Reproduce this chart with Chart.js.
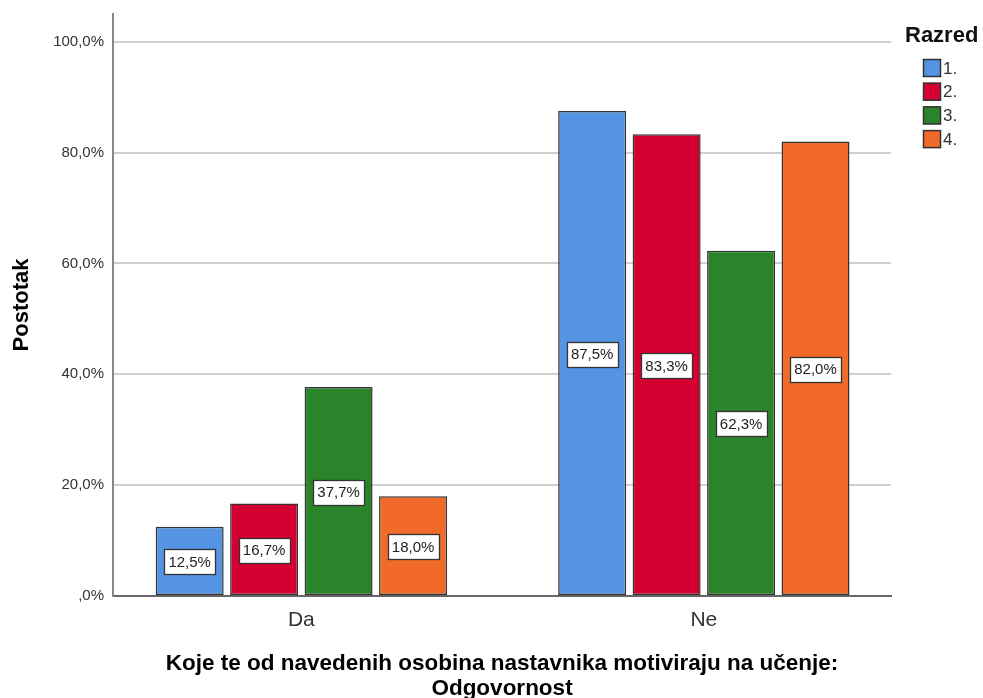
<!DOCTYPE html>
<html><head><meta charset="utf-8">
<style>html,body{margin:0;padding:0;background:#fff}#wrap{width:983px;height:698px;position:relative}</style>
<script src="https://cdn.jsdelivr.net/npm/chart.js@4.4.1/dist/chart.umd.min.js"></script>
</head><body><div id="wrap"><canvas id="c" width="983" height="698"></canvas></div>
<script>
const categories = ['Da', 'Ne'];
const seriesNames = ['1.', '2.', '3.', '4.'];
const razred1 = [12.5, 87.5];
const razred2 = [16.7, 83.3];
const razred3 = [37.7, 62.3];
const razred4 = [18.0, 82.0];
const yTicks = [0, 20, 40, 60, 80, 100];
const xTitle = ['Koje te od navedenih osobina nastavnika motiviraju na učenje:', 'Odgovornost'];
const yTitle = 'Postotak';
const legendTitle = 'Razred';
const colors = ['#5594E3', '#D50032', '#2A852A', '#F26A2A'];

const FONT = "'Liberation Sans', Arial, sans-serif";
const fmt = v => (v === 0 ? ',0%' : v.toFixed(1).replace('.', ',') + '%');

const series = [razred1, razred2, razred3, razred4];
const datasets = series.map((vals, i) => ({
  label: seriesNames[i],
  data: vals.map((v, j) => ({x: j, y: v})),
  backgroundColor: colors[i],
  borderColor: '#333333',
  borderWidth: 1.5,
  borderSkipped: false,
  categoryPercentage: 0.74,
  barPercentage: 0.913
}));

const labelPlugin = {
  id: 'valueLabels',
  afterDatasetsDraw(chart) {
    const ctx = chart.ctx;
    ctx.save();
    ctx.font = '15px ' + FONT;
    ctx.textAlign = 'center';
    ctx.textBaseline = 'middle';
    chart.data.datasets.forEach((ds, di) => {
      const meta = chart.getDatasetMeta(di);
      meta.data.forEach((el, j) => {
        const v = series[di][j];
        const txt = fmt(v);
        const cx = el.x;
        const cy = (el.y + el.base) / 2 + 1;
        const tw = ctx.measureText(txt).width;
        const w = Math.round(tw + 8), h = 25;
        const x0 = Math.round(cx - w / 2) + 0.5, y0 = Math.round(cy - h / 2) + 0.5;
        ctx.fillStyle = '#ffffff';
        ctx.fillRect(x0, y0, w, h);
        ctx.strokeStyle = '#333333';
        ctx.lineWidth = 1.3;
        ctx.strokeRect(x0, y0, w, h);
        ctx.fillStyle = '#222222';
        ctx.fillText(txt, cx, cy + 1);
      });
    });
    ctx.restore();
  }
};

const legendPlugin = {
  id: 'customLegend',
  afterDraw(chart) {
    const ctx = chart.ctx;
    ctx.save();
    ctx.fillStyle = '#111111';
    ctx.font = 'bold 22px ' + FONT;
    ctx.textAlign = 'left';
    ctx.textBaseline = 'middle';
    ctx.fillText(legendTitle, 905, 36);
    ctx.font = '17px ' + FONT;
    chart.data.datasets.forEach((ds, i) => {
      const y = 59 + i * 23.7;
      ctx.fillStyle = ds.backgroundColor;
      ctx.fillRect(923, y, 18, 18);
      ctx.strokeStyle = '#333333';
      ctx.lineWidth = 1.5;
      ctx.strokeRect(923.5, y + 0.5, 17, 17);
      ctx.fillStyle = '#333333';
      ctx.fillText(ds.label, 943, y + 10);
    });
    ctx.restore();
  }
};

new Chart(document.getElementById('c'), {
  type: 'bar',
  data: {datasets},
  plugins: [labelPlugin, legendPlugin],
  options: {
    responsive: false,
    devicePixelRatio: 1,
    animation: false,
    layout: {padding: {top: 14, right: 92, left: 0, bottom: 0}},
    plugins: {legend: {display: false}, tooltip: {enabled: false}},
    scales: {
      x: {
        type: 'linear',
        offset: false,
        min: -0.468,
        max: 1.465,
        afterBuildTicks: s => { s.ticks = categories.map((c, i) => ({value: i})); },
        afterFit: s => { s.height = 102; s.paddingLeft = 0; s.paddingRight = 0; },
        ticks: {
          callback: v => categories[v] !== undefined ? categories[v] : '',
          font: {family: FONT, size: 21},
          color: '#333333',
          padding: 12,
          autoSkip: false,
          maxRotation: 0
        },
        grid: {display: false, drawTicks: false, offset: false},
        border: {display: true, color: '#666666', width: 2},
        title: {
          display: true,
          text: xTitle,
          font: {family: FONT, size: 22.5, weight: 'bold', lineHeight: 1.11},
          color: '#000000',
          padding: {top: 0, bottom: -3}
        }
      },
      y: {
        min: 0,
        max: 105,
        afterBuildTicks: s => { s.ticks = yTicks.map(v => ({value: v})); },
        afterFit: s => { s.width = 113; s.paddingTop = 0; s.paddingBottom = 0; },
        ticks: {
          callback: v => fmt(v),
          font: {family: FONT, size: 15},
          color: '#333333',
          padding: 9
        },
        grid: {color: '#d0d0d0', lineWidth: 2, drawTicks: false},
        border: {display: true, color: '#888888', width: 2},
        title: {
          display: true,
          text: yTitle,
          font: {family: FONT, size: 22, weight: 'bold', lineHeight: 1.2},
          color: '#000000',
          padding: {top: 9, bottom: 0}
        }
      }
    }
  }
});
</script></body></html>
